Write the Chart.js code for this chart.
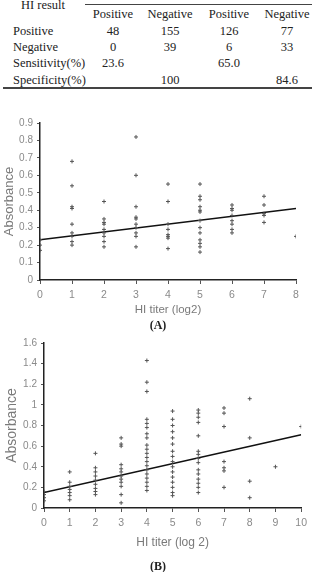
<!DOCTYPE html>
<html>
<head>
<meta charset="utf-8">
<script src="https://cdn.jsdelivr.net/npm/chart.js@4.4.0/dist/chart.umd.min.js"></script>
<style>
html, body { margin: 0; padding: 0; background: #fff; }
body { width: 312px; height: 572px; position: relative; overflow: hidden;
       font-family: 'Liberation Serif', 'Times New Roman', serif; color: #222; }
.t { position: absolute; font-size: 12.5px; line-height: 14px; white-space: nowrap; }
.c { transform: translateX(-50%); }
.rule { position: absolute; background: #444; }
canvas { position: absolute; left: 0; }
.cap { position: absolute; left: 158px; transform: translateX(-50%);
       font-weight: bold; font-size: 12px; line-height: 14px; }
</style>
</head>
<body>
<div id="tbl"></div>
<canvas id="chartA" width="312" height="210" style="top:110px"></canvas>
<div class="cap" style="top:318px">(A)</div>
<canvas id="chartB" width="312" height="225" style="top:330px"></canvas>
<div class="cap" style="top:559px">(B)</div>

<script>
// table
const tableCorner = 'HI result';
const subHeaders = ['Positive', 'Negative', 'Positive', 'Negative'];
const rowLabels = ['Positive', 'Negative', 'Sensitivity(%)', 'Specificity(%)'];
const rowValues = [
    ['48', '155', '126', '77'],
    ['0', '39', '6', '33'],
    ['23.6', '', '65.0', ''],
    ['', '100', '', '84.6']
];

// chart A
const titersA = [0, 1, 2, 3, 4, 5, 6, 7, 8];
const absA = [
    [0.23, 0.2, 0.17],
    [0.68, 0.54, 0.42, 0.41, 0.32, 0.27, 0.25, 0.22, 0.2],
    [0.45, 0.35, 0.33, 0.32, 0.29, 0.27, 0.25, 0.22, 0.19],
    [0.82, 0.6, 0.42, 0.36, 0.35, 0.32, 0.3, 0.27, 0.25, 0.19],
    [0.55, 0.45, 0.32, 0.29, 0.26, 0.25, 0.24, 0.18],
    [0.55, 0.48, 0.46, 0.42, 0.4, 0.39, 0.34, 0.3, 0.27, 0.23, 0.21, 0.19, 0.16],
    [0.43, 0.41, 0.4, 0.37, 0.34, 0.32, 0.29, 0.27],
    [0.48, 0.43, 0.38, 0.37, 0.33],
    [0.25]
];
const fitA = [0.23, 0.41];

// chart B
const titersB = [0, 1, 2, 3, 4, 5, 6, 7, 8, 9, 10];
const absB = [
    [0.16, 0.13, 0.1, 0.07],
    [0.35, 0.25, 0.21, 0.18, 0.15, 0.12, 0.08],
    [0.53, 0.39, 0.35, 0.31, 0.27, 0.23, 0.19, 0.16, 0.13],
    [0.68, 0.62, 0.6, 0.42, 0.38, 0.35, 0.31, 0.28, 0.25, 0.21, 0.13, 0.05],
    [1.43, 1.22, 1.13, 0.86, 0.82, 0.78, 0.72, 0.68, 0.61, 0.57, 0.53, 0.49, 0.45, 0.41, 0.37, 0.33, 0.29, 0.25, 0.21, 0.17],
    [0.94, 0.86, 0.8, 0.74, 0.68, 0.62, 0.55, 0.5, 0.45, 0.4, 0.35, 0.3, 0.25, 0.2, 0.15, 0.12],
    [0.95, 0.92, 0.88, 0.83, 0.7, 0.55, 0.52, 0.48, 0.44, 0.37, 0.33, 0.28, 0.24, 0.2, 0.15],
    [0.97, 0.92, 0.79, 0.45, 0.39, 0.36, 0.2],
    [1.06, 0.68, 0.26, 0.1],
    [0.4],
    [0.79]
];
const fitB = [0.15, 0.71];

/**
 * Draws the table at the top as positioned text.
 */
function renderTable() {
    const box = document.getElementById('tbl');
    const colX = [113, 170, 229, 287];
    const rowY = [24, 40, 56, 73];
    let html = '';
    html += `<div class="t c" style="left:43px;top:-2px">${tableCorner}</div>`;
    html += `<div class="rule" style="left:85px;top:4px;width:227px;height:1px"></div>`;
    subHeaders.forEach((h, i) => {
        html += `<div class="t c" style="left:${colX[i]}px;top:7px">${h}</div>`;
    });
    rowLabels.forEach((label, r) => {
        html += `<div class="t" style="left:13px;top:${rowY[r]}px">${label}</div>`;
        rowValues[r].forEach((v, i) => {
            if (v) html += `<div class="t c" style="left:${colX[i]}px;top:${rowY[r]}px">${v}</div>`;
        });
    });
    html += `<div class="rule" style="left:3px;top:87px;width:309px;height:2px"></div>`;
    box.innerHTML = html;
}

function toPoints(titers, values) {
    return titers.flatMap((t, i) => values[i].map(v => ({ x: t, y: v })));
}

function renderScatter(id, titers, values, fit, cfg) {
    const ctx = document.getElementById(id).getContext('2d');
    const xMax = titers[titers.length - 1];
    new Chart(ctx, {
        type: 'scatter',
        data: {
            datasets: [{
                data: toPoints(titers, values),
                pointStyle: 'cross',
                pointRadius: 2,
                borderWidth: 1,
                borderColor: '#555',
                backgroundColor: '#555'
            }, {
                type: 'line',
                data: [{ x: titers[0], y: fit[0] }, { x: xMax, y: fit[1] }],
                borderColor: '#111',
                borderWidth: 1.5,
                pointRadius: 0,
                fill: false
            }]
        },
        options: {
            responsive: false,
            animation: false,
            layout: { padding: { top: 13, right: cfg.padRight, left: 0, bottom: 0 } },
            plugins: { legend: { display: false }, tooltip: { enabled: false } },
            scales: {
                x: {
                    type: 'linear',
                    min: 0,
                    max: xMax,
                    afterFit: s => { s.height = cfg.xHeight; },
                    ticks: { stepSize: 1, color: '#8a8a8a', padding: 5,
                             font: { family: 'Liberation Sans', size: 10.5 } },
                    grid: { drawOnChartArea: false, tickLength: 4, color: '#555' },
                    border: { color: '#222', width: 1.5 },
                    title: { display: true, text: cfg.xTitle, color: '#7a7a7a',
                             font: { family: 'Liberation Sans', size: cfg.xTitleSize },
                             padding: { top: 0, bottom: cfg.xTitlePad } }
                },
                y: {
                    min: 0,
                    max: cfg.yMax,
                    afterFit: s => { s.width = cfg.yWidth; },
                    ticks: { stepSize: cfg.yStep, color: '#8a8a8a', padding: 4,
                             font: { family: 'Liberation Sans', size: 10 },
                             // "1" rather than "1.0"
                             callback: v => String(+v.toFixed(1)) },
                    grid: { drawOnChartArea: false, tickLength: 3, color: '#555' },
                    border: { color: '#222', width: 1.5 },
                    title: { display: true, text: 'Absorbance', color: '#7a7a7a',
                             font: { family: 'Liberation Sans', size: cfg.yTitleSize },
                             padding: { top: cfg.yTitlePad, bottom: 0 } }
                }
            }
        }
    });
}

renderTable();

renderScatter('chartA', titersA, absA, fitA, {
    xTitle: 'HI titer (log2)', xTitleSize: 11.5, xTitlePad: 3, xHeight: 40,
    yMax: 0.9, yStep: 0.1, yWidth: 40, yTitleSize: 13, yTitlePad: 2, padRight: 16
});

renderScatter('chartB', titersB, absB, fitB, {
    xTitle: 'HI titer (log 2)', xTitleSize: 12, xTitlePad: 5, xHeight: 47,
    yMax: 1.6, yStep: 0.2, yWidth: 44, yTitleSize: 14, yTitlePad: 4, padRight: 9
});
</script>
</body>
</html>
